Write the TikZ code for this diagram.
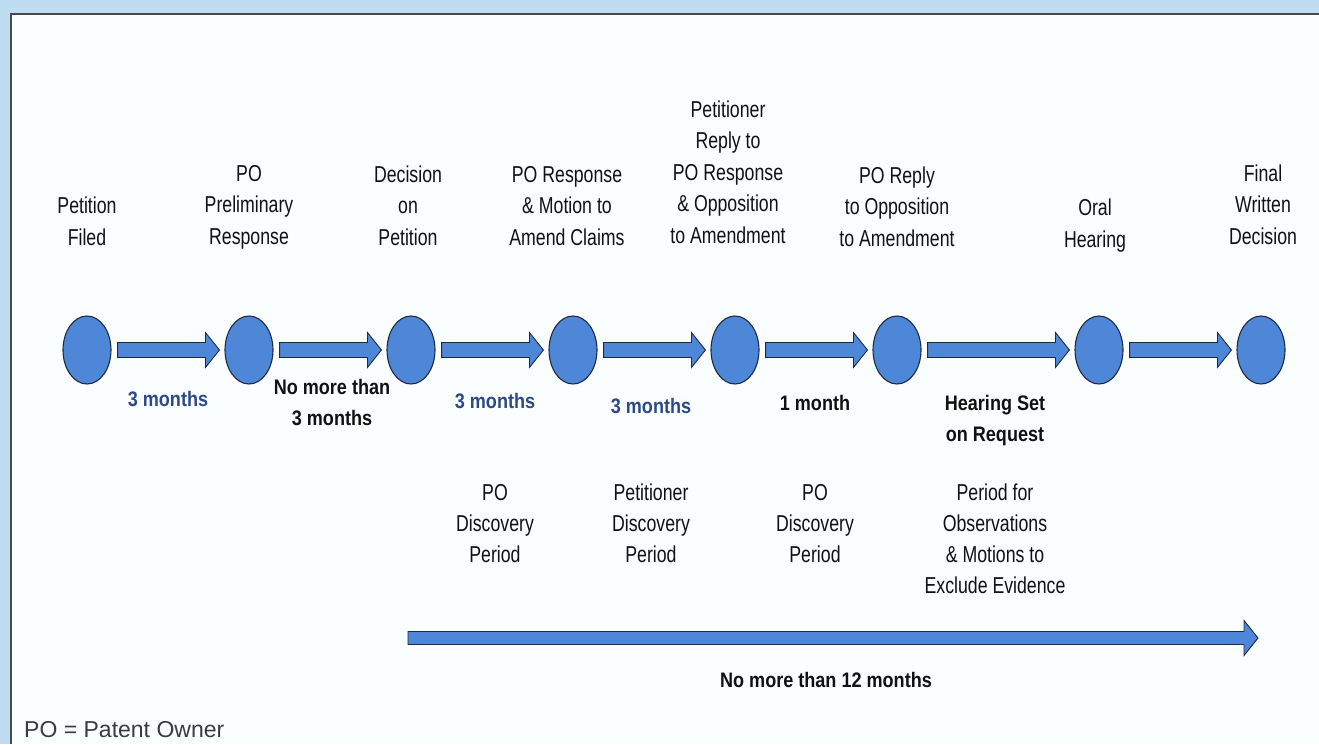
\documentclass[tikz,border=0pt]{standalone}
\usepackage{fontspec}
\setmainfont{Liberation Sans}
\newfontfamily\narrow[FakeStretch=0.77]{Liberation Sans}
\newfontfamily\narrowbf[FakeStretch=0.86]{Liberation Sans}
\usepackage{tikz}
\usetikzlibrary{positioning,calc,shapes.geometric}
\definecolor{cFill}{HTML}{4F87D8}
\definecolor{cEdge}{HTML}{1E2A40}
\definecolor{cMonth}{HTML}{2C4A87}
\definecolor{cInk}{HTML}{111111}
\definecolor{cFrame}{HTML}{BEDDF3}
\definecolor{cPage}{HTML}{FAFEFF}
\definecolor{cRule}{HTML}{4A4A4A}
% block arrow: from, to, half height of shaft
\newcommand{\barrow}[3]{%
  \draw[barr] let \p1=(#1), \p2=(#2) in
    (\x1,\y1-#3) -- (\x2-14pt,\y1-#3) -- (\x2-14pt,\y1-17.5pt) -- (\x2,\y1)
    -- (\x2-14pt,\y1+17.5pt) -- (\x2-14pt,\y1+#3) -- (\x1,\y1+#3) -- cycle;}
\newcommand{\blockar}[2]{\barrow{$(#1.east)+(6,0)$}{$(#2.west)-(5,0)$}{7.5pt}}
\tikzset{
  evt/.style={ellipse, draw=cEdge, line width=1.1pt, fill=cFill,
              minimum width=48pt, minimum height=68pt, inner sep=0pt},
  barr/.style={draw=cEdge, line width=0.9pt, fill=cFill, line join=miter},
  lbl/.style={align=center, inner sep=0pt, text depth=0pt, text=cInk,
              font=\narrow\fontsize{23}{31.5}\selectfont},
  per/.style={lbl, anchor=north, font=\narrow\fontsize{23}{31}\selectfont},
  dur/.style={align=center, inner sep=0pt, text=cInk,
              font=\narrowbf\bfseries\fontsize{21}{31}\selectfont},
  durB/.style={dur, text=cMonth}
}
\begin{document}
\begin{tikzpicture}[x=1pt, y=-1pt, node distance=112.9pt]
\useasboundingbox (0,0) rectangle (1319,744);
\fill[cFrame] (0,0) rectangle (1319,744);
\fill[cPage] (11,14) rectangle (1319,744);
\draw[cRule, line width=2.5pt] (11,744) -- (11,14) -- (1319,14);
% events
\node[evt] (pet) at (87,350) {};
\node[evt, right=of pet] (pre) {};
\node[evt, right=of pre] (dec) {};
\node[evt, right=of dec] (resp) {};
\node[evt, right=of resp] (rep) {};
\node[evt, right=of rep] (porep) {};
\node[evt, right=152.9pt of porep] (oral) {};
\node[evt, right=of oral] (fin) {};
\node[lbl, above=70pt of pet] (tPet) {Petition\\Filed};
\node[lbl, above=71pt of pre] (tPre) {PO\\Preliminary\\Response};
\node[lbl, above=70pt of dec, xshift=-3pt] (tDec) {Decision\\on\\Petition};
\node[lbl, above=70pt of resp, xshift=-6pt] (tResp) {PO Response\\\& Motion to\\Amend Claims};
\node[lbl, above=72pt of rep, xshift=-7pt] (tRep) {Petitioner\\Reply to\\PO Response\\\& Opposition\\to Amendment};
\node[lbl, above=69pt of porep] (tPorep) {PO Reply\\to Opposition\\to Amendment};
\node[lbl, above=68pt of oral, xshift=-4pt] (tOral) {Oral\\Hearing};
\node[lbl, above=71pt of fin, xshift=2pt] (tFin) {Final\\Written\\Decision};
% steps
\blockar{pet}{pre}\blockar{pre}{dec}\blockar{dec}{resp}\blockar{resp}{rep}
\blockar{rep}{porep}\blockar{porep}{oral}\blockar{oral}{fin}
\node[durB] (d1) at ($(pet)!0.5!(pre)+(0,49)$) {3 months};
\node[dur] (d2) at ($(pre)!0.5!(dec)+(2,52.5)$) {No more than\\3 months};
\node[durB] (d3) at ($(dec)!0.5!(resp)+(3,51)$) {3 months};
\node[durB] (d4) at ($(resp)!0.5!(rep)+(-3,56)$) {3 months};
\node[dur] (d5) at ($(rep)!0.5!(porep)+(-1,53)$) {1 month};
\node[dur] (d6) at ($(porep)!0.5!(oral)+(-3,70.5)$) {Hearing Set\\on Request};
\node[per] (p1) at (d3 |- 0,484) {PO\\Discovery\\Period};
\node[per] (p2) at (d4 |- 0,484) {Petitioner\\Discovery\\Period};
\node[per] (p3) at (d5 |- 0,484) {PO\\Discovery\\Period};
\node[per] (p4) at (d6 |- 0,484) {Period for\\Observations\\\& Motions to\\Exclude Evidence};
% whole trial
\coordinate (ts) at (408,638);
\coordinate (te) at (1258,638);
\barrow{ts}{te}{6.5pt}
\node[dur] (tot) at ($(ts)!0.5!(te)+(-7,42)$) {No more than 12 months};
\node[anchor=base west, inner sep=0pt, text=cRule!80!black,
      font=\fontsize{23}{28}\selectfont] (key) at (24,737) {PO = Patent Owner};
\end{tikzpicture}
\end{document}
